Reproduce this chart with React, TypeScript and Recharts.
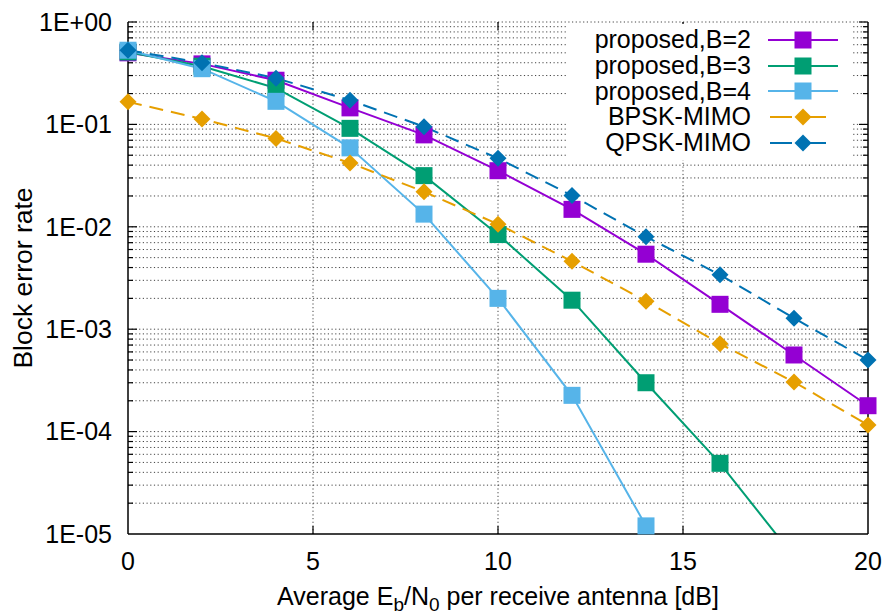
import { LineChart, Line, XAxis, YAxis, ReferenceLine, Legend } from "recharts";

const snr = [0, 2, 4, 6, 8, 10, 12, 14, 16, 18, 20];
const blerB2 = [0.5, 0.39, 0.27, 0.145, 0.079, 0.0353, 0.0148, 0.0054, 0.00175, 0.00056, 0.000179];
const blerB3 = [0.51, 0.37, 0.226, 0.0915, 0.0316, 0.0084, 0.00192, 0.0003, 0.000049, 0.000006, null];
const blerB4 = [0.53, 0.35, 0.168, 0.059, 0.0133, 0.002, 0.000226, 0.000012, null, null, null];
const blerBpsk = [0.166, 0.113, 0.073, 0.042, 0.022, 0.0106, 0.0046, 0.00188, 0.00072, 0.000305, 0.000116];
const blerQpsk = [0.53, 0.4, 0.283, 0.172, 0.095, 0.0466, 0.0202, 0.008, 0.0034, 0.00128, 0.0005];

const xTicks = [0, 5, 10, 15, 20];
const yTicks = [1e-5, 1e-4, 1e-3, 1e-2, 1e-1, 1];
const minorTicks = yTicks.slice(0, -1).flatMap((d) => [2, 3, 4, 5, 6, 7, 8, 9].map((m) => d * m));

const series = [
  { key: "b2", name: "proposed,B=2", color: "#9400D3", marker: "square", dash: undefined, values: blerB2 },
  { key: "b3", name: "proposed,B=3", color: "#009E73", marker: "square", dash: undefined, values: blerB3 },
  { key: "b4", name: "proposed,B=4", color: "#56B4E9", marker: "square", dash: undefined, values: blerB4 },
  { key: "bpsk", name: "BPSK-MIMO", color: "#E69F00", marker: "diamond", dash: "14 8", values: blerBpsk },
  { key: "qpsk", name: "QPSK-MIMO", color: "#0072B2", marker: "diamond", dash: "14 8", values: blerQpsk },
];

const rows = snr.map((x, i) => {
  const row: Record<string, number | null> = { x };
  series.forEach((s) => (row[s.key] = s.values[i]));
  return row;
});

const font = "'Liberation Sans', Arial, sans-serif";
const gridDots = { stroke: "#444", strokeWidth: 1, strokeDasharray: "1.2 2.5" };

const fmtExp = (v: number) => {
  const e = Math.round(Math.log10(v));
  return `1E${e < 0 ? "-" : "+"}${String(Math.abs(e)).padStart(2, "0")}`;
};

function Marker({ cx, cy, type, color }: { cx: number; cy: number; type: string; color: string }) {
  if (cx == null || cy == null || isNaN(cy)) return <g />;
  if (type === "square") {
    return <rect x={cx - 8.5} y={cy - 8.5} width={17} height={17} fill={color} />;
  }
  return <path d={`M${cx},${cy - 8.5}L${cx + 8.5},${cy}L${cx},${cy + 8.5}L${cx - 8.5},${cy}Z`} fill={color} />;
}

// dotted grid line with short solid ticks at both ends (gnuplot style, ticks inward)
const gridShape = (len: number, horizontal: boolean) => (p: any) => {
  const { x1, y1, x2, y2 } = p;
  return (
    <g>
      <line x1={x1} y1={y1} x2={x2} y2={y2} {...gridDots} />
      {horizontal ? (
        <>
          <line x1={x1} y1={y1} x2={x1 + len} y2={y1} stroke="#000" strokeWidth={1.2} />
          <line x1={x2 - len} y1={y2} x2={x2} y2={y2} stroke="#000" strokeWidth={1.2} />
        </>
      ) : (
        <>
          <line x1={x1} y1={Math.min(y1, y2)} x2={x1} y2={Math.min(y1, y2) + len} stroke="#000" strokeWidth={1.2} />
          <line x1={x1} y1={Math.max(y1, y2) - len} x2={x1} y2={Math.max(y1, y2)} stroke="#000" strokeWidth={1.2} />
        </>
      )}
    </g>
  );
};

function KeyBox() {
  return (
    <div style={{ fontFamily: font, fontSize: 25, paddingTop: 3 }}>
      {series.map((s) => (
        <div key={s.key} style={{ display: "flex", alignItems: "center", justifyContent: "flex-end", height: 25.8 }}>
          <span style={{ color: "#000", lineHeight: "25.8px" }}>{s.name}</span>
          <svg width={70} height={24} style={{ marginLeft: 17, marginRight: 15 }}>
            <line x1={0} y1={12} x2={70} y2={12} stroke={s.color} strokeWidth={2} strokeDasharray={s.dash ? "22 12" : undefined} strokeDashoffset={s.dash ? -2 : 0} />
            <Marker cx={35} cy={12} type={s.marker} color={s.color} />
          </svg>
        </div>
      ))}
    </div>
  );
}

export default function App() {
  const tickStyle = { fill: "#000", fontSize: 25, fontFamily: font };
  return (
    <div style={{ position: "absolute", left: 0, top: 0, background: "#fff" }}>
      <LineChart width={889} height={614} data={rows} margin={{ top: 22, right: 21, bottom: 0, left: 0 }}>
        <XAxis
          dataKey="x"
          type="number"
          domain={[0, 20]}
          ticks={xTicks}
          interval={0}
          height={80}
          tickLine={false}
          tickSize={0}
          tickMargin={18}
          axisLine={{ stroke: "#000", strokeWidth: 1.5 }}
          tick={tickStyle}
          label={{
            content: ({ viewBox }: any) => (
              <text x={viewBox.x + viewBox.width / 2} y={viewBox.y + 71} textAnchor="middle" fontSize={25} fontFamily={font} fill="#000">
                Average E<tspan dy={6} fontSize={19}>b</tspan>
                <tspan dy={-6}>/N</tspan>
                <tspan dy={6} fontSize={19}>0</tspan>
                <tspan dy={-6}> per receive antenna [dB]</tspan>
              </text>
            ),
          }}
        />
        <YAxis yAxisId="clip" hide type="number" scale="log" domain={[1e-5, 1]} allowDataOverflow />
        <YAxis
          type="number"
          scale="log"
          domain={[1e-5, 1]}
          ticks={yTicks}
          interval={0}
          width={128}
          tickLine={false}
          tickSize={0}
          tickMargin={16}
          tickFormatter={fmtExp}
          axisLine={{ stroke: "#000", strokeWidth: 1.5 }}
          tick={tickStyle}
          label={{
            content: ({ viewBox }: any) => {
              const cx = viewBox.x + 23;
              const cy = viewBox.y + viewBox.height / 2;
              return (
                <text x={cx} y={cy} transform={`rotate(-90 ${cx} ${cy})`} textAnchor="middle" dominantBaseline="central" fontSize={26.5} fontFamily={font} fill="#000">
                  Block error rate
                </text>
              );
            },
          }}
        />
        {minorTicks.map((v) => (
          <ReferenceLine key={`m${v}`} y={v} shape={gridShape(5, true)} />
        ))}
        {yTicks.slice(1).map((v) => (
          <ReferenceLine key={`M${v}`} y={v} shape={gridShape(9, true)} />
        ))}
        {xTicks.slice(1, -1).map((v) => (
          <ReferenceLine key={`x${v}`} x={v} shape={gridShape(8, false)} />
        ))}
        <ReferenceLine x={xTicks[xTicks.length - 1]} stroke="#000" strokeWidth={1.5} />
        {series.map((s) => (
          <Line
            key={s.key}
            dataKey={s.key}
            name={s.name}
            yAxisId={s.key === "b3" ? "clip" : 0}
            stroke={s.color}
            strokeWidth={2}
            strokeDasharray={s.dash}
            isAnimationActive={false}
            dot={(p: any) => <Marker key={`${s.key}-${p.index}`} cx={p.cx} cy={p.cy} type={s.marker} color={s.color} />}
            activeDot={false}
          />
        ))}
        <Legend
          layout="vertical"
          align="center"
          verticalAlign="middle"
          content={() => <KeyBox />}
          wrapperStyle={{ left: 567, top: 24, width: 286, height: 136, background: "#fff" }}
        />
      </LineChart>
    </div>
  );
}
